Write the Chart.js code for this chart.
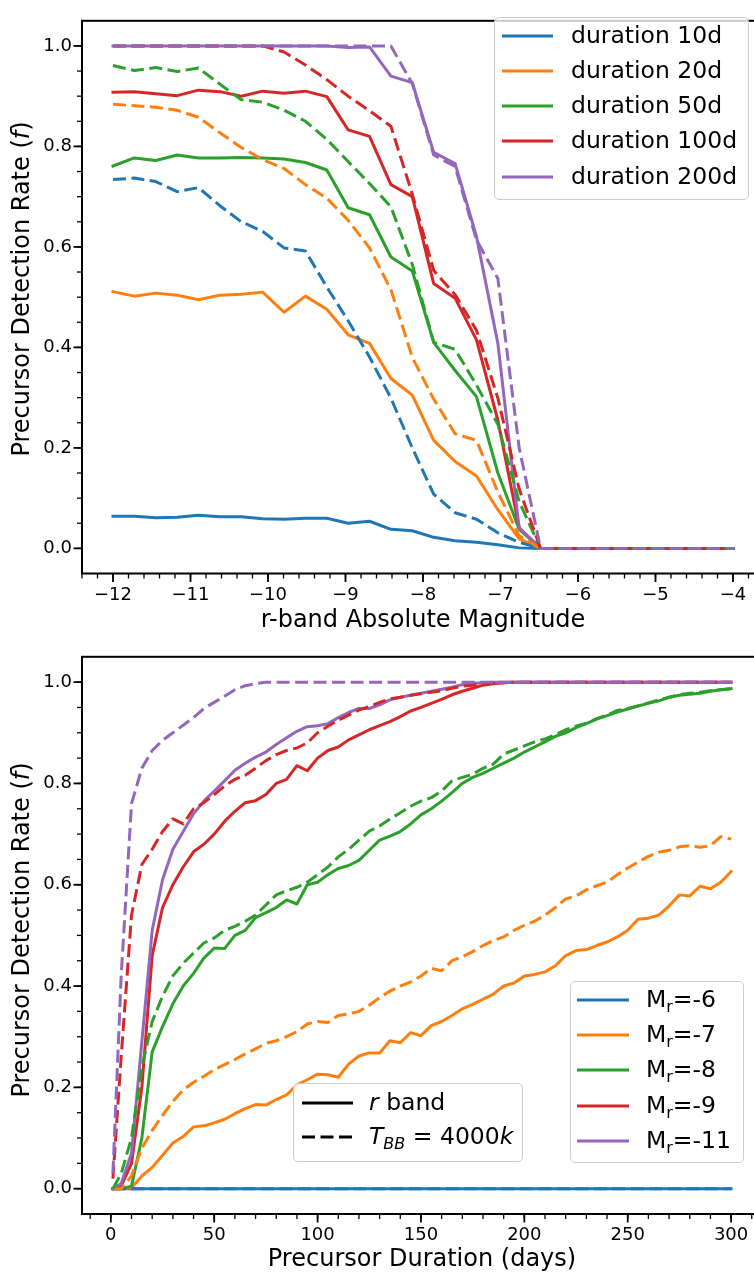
<!DOCTYPE html>
<html>
<head>
<meta charset="utf-8">
<title>Precursor detection rate</title>
<script src="https://cdn.jsdelivr.net/npm/chart.js@4.4.1/dist/chart.umd.min.js"></script>
<style>
  html, body { margin: 0; padding: 0; background: #fff; }
  #page { position: relative; width: 754px; height: 1275px; overflow: hidden; font-family: "DejaVu Sans", sans-serif; color: #000; }
  #page canvas { position: absolute; left: 0; }
  .ytitle { position: absolute; font-size: 24px; line-height: 1; white-space: nowrap; transform: translate(-50%, -50%) rotate(-90deg); }
  .legend { position: absolute; box-sizing: border-box; border: 1px solid #cccccc; border-radius: 5px; background: rgba(255, 255, 255, 0.8); }
  .legend .row { position: absolute; left: 0; height: 0; }
  .legend svg { position: absolute; top: -6px; }
  .legend span { position: absolute; top: 0; transform: translateY(-50%); font-size: 23.5px; line-height: 1; white-space: nowrap; }
  .legend sub { font-size: 16px; vertical-align: -5px; line-height: 0; }
</style>
</head>
<body>
<div id="page">
  <canvas id="topChart" width="764" height="636" style="top:0"></canvas>
  <canvas id="bottomChart" width="762" height="639" style="top:636px"></canvas>
  <div class="ytitle" style="left:21px; top:289px">Precursor Detection Rate (<i>f</i>)</div>
  <div class="ytitle" style="left:21px; top:930px">Precursor Detection Rate (<i>f</i>)</div>
  <div class="legend" id="legDuration" style="left:494px; top:17px; width:255px; height:183px"></div>
  <div class="legend" id="legBand" style="left:293px; top:1083px; width:230px; height:79px"></div>
  <div class="legend" id="legMag" style="left:570px; top:981px; width:174px; height:182px"></div>
</div>

<script>
// ---- top panel: detection rate vs r-band absolute magnitude ----
const magnitudes = [-12, -11.724, -11.448, -11.172, -10.897, -10.621, -10.345, -10.069, -9.793, -9.517,
  -9.241, -8.966, -8.69, -8.414, -8.138, -7.862, -7.586, -7.31, -7.034, -6.759,
  -6.483, -6.207, -5.931, -5.655, -5.379, -5.103, -4.828, -4.552, -4.276, -4];

// solid = r band, dashed = T_BB = 4000k
const dur10R = [0.064, 0.064, 0.061, 0.062, 0.066, 0.063, 0.063, 0.059, 0.058, 0.060,
  0.060, 0.050, 0.054, 0.038, 0.035, 0.022, 0.015, 0.012, 0.007, 0.001,
  0, 0, 0, 0, 0, 0, 0, 0, 0, 0];
const dur10BB = [0.734, 0.737, 0.730, 0.710, 0.718, 0.682, 0.650, 0.631, 0.598, 0.592,
  0.520, 0.453, 0.381, 0.299, 0.200, 0.108, 0.071, 0.058, 0.031, 0.012,
  0, 0, 0, 0, 0, 0, 0, 0, 0, 0];
const dur20R = [0.511, 0.502, 0.508, 0.504, 0.495, 0.504, 0.506, 0.510, 0.470, 0.502,
  0.476, 0.425, 0.408, 0.338, 0.305, 0.215, 0.173, 0.144, 0.077, 0.019,
  0, 0, 0, 0, 0, 0, 0, 0, 0, 0];
const dur20BB = [0.884, 0.881, 0.878, 0.872, 0.858, 0.827, 0.798, 0.774, 0.756, 0.724,
  0.697, 0.653, 0.598, 0.515, 0.380, 0.297, 0.228, 0.215, 0.112, 0.025,
  0, 0, 0, 0, 0, 0, 0, 0, 0, 0];
const dur50R = [0.761, 0.777, 0.772, 0.783, 0.777, 0.777, 0.778, 0.777, 0.775, 0.768,
  0.753, 0.678, 0.664, 0.580, 0.552, 0.410, 0.354, 0.302, 0.150, 0.038,
  0, 0, 0, 0, 0, 0, 0, 0, 0, 0];
const dur50BB = [0.961, 0.951, 0.957, 0.949, 0.956, 0.924, 0.893, 0.888, 0.872, 0.850,
  0.814, 0.770, 0.726, 0.680, 0.565, 0.410, 0.396, 0.325, 0.247, 0.093,
  0, 0, 0, 0, 0, 0, 0, 0, 0, 0];
const dur100R = [0.908, 0.909, 0.905, 0.901, 0.912, 0.909, 0.900, 0.910, 0.906, 0.910,
  0.899, 0.833, 0.820, 0.724, 0.700, 0.527, 0.498, 0.415, 0.255, 0.041,
  0, 0, 0, 0, 0, 0, 0, 0, 0, 0];
const dur100BB = [1, 1, 1, 1, 1, 1, 1, 1, 0.988, 0.962,
  0.933, 0.900, 0.871, 0.840, 0.705, 0.553, 0.505, 0.434, 0.299, 0.118,
  0, 0, 0, 0, 0, 0, 0, 0, 0, 0];
const dur200R = [1, 1, 1, 1, 1, 1, 1, 1, 1, 1,
  1, 0.997, 0.998, 0.940, 0.927, 0.788, 0.766, 0.621, 0.408, 0.040,
  0, 0, 0, 0, 0, 0, 0, 0, 0, 0];
const dur200BB = [1, 1, 1, 1, 1, 1, 1, 1, 1, 1,
  1, 1, 1, 1, 0.925, 0.783, 0.760, 0.614, 0.537, 0.200,
  0, 0, 0, 0, 0, 0, 0, 0, 0, 0];

const magTicks = [-12, -11, -10, -9, -8, -7, -6, -5, -4];

// ---- bottom panel: detection rate vs precursor duration ----
const days = [1, 5, 10, 15, 20, 25, 30, 35, 40, 45,
  50, 55, 60, 65, 70, 75, 80, 85, 90, 95,
  100, 105, 110, 115, 120, 125, 130, 135, 140, 145,
  150, 155, 160, 165, 170, 175, 180, 185, 190, 195,
  200, 205, 210, 215, 220, 225, 230, 235, 240, 245,
  250, 255, 260, 265, 270, 275, 280, 285, 290, 295,
  300];

const mr6R = [0, 0, 0, 0, 0, 0, 0, 0, 0, 0,
  0, 0, 0, 0, 0, 0, 0, 0, 0, 0,
  0, 0, 0, 0, 0, 0, 0, 0, 0, 0,
  0, 0, 0, 0, 0, 0, 0, 0, 0, 0,
  0, 0, 0, 0, 0, 0, 0, 0, 0, 0,
  0, 0, 0, 0, 0, 0, 0, 0, 0, 0,
  0];
const mr6BB = [0, 0, 0, 0, 0, 0, 0, 0, 0, 0,
  0, 0, 0, 0, 0, 0, 0, 0, 0, 0,
  0, 0, 0, 0, 0, 0, 0, 0, 0, 0,
  0, 0, 0, 0, 0, 0, 0, 0, 0, 0,
  0, 0, 0, 0, 0, 0, 0, 0, 0, 0,
  0, 0, 0, 0, 0, 0, 0, 0, 0, 0,
  0];
const mr7R = [0, 0, 0.002, 0.025, 0.042, 0.066, 0.090, 0.103, 0.122, 0.124,
  0.130, 0.137, 0.148, 0.158, 0.166, 0.165, 0.176, 0.185, 0.205, 0.215,
  0.226, 0.225, 0.220, 0.246, 0.262, 0.268, 0.268, 0.292, 0.288, 0.308,
  0.302, 0.322, 0.330, 0.342, 0.355, 0.364, 0.374, 0.384, 0.400, 0.406,
  0.420, 0.423, 0.428, 0.440, 0.460, 0.470, 0.472, 0.480, 0.487, 0.497,
  0.510, 0.532, 0.534, 0.540, 0.558, 0.580, 0.578, 0.597, 0.592, 0.605,
  0.626];
const mr7BB = [0, 0, 0.025, 0.080, 0.115, 0.145, 0.172, 0.195, 0.210, 0.222,
  0.235, 0.245, 0.255, 0.266, 0.276, 0.287, 0.292, 0.300, 0.310, 0.325,
  0.330, 0.328, 0.342, 0.345, 0.350, 0.362, 0.377, 0.390, 0.400, 0.408,
  0.420, 0.435, 0.430, 0.450, 0.458, 0.468, 0.480, 0.490, 0.497, 0.510,
  0.520, 0.528, 0.540, 0.555, 0.572, 0.578, 0.590, 0.598, 0.605, 0.620,
  0.633, 0.645, 0.656, 0.664, 0.668, 0.675, 0.677, 0.674, 0.677, 0.695,
  0.690];
const mr8R = [0, 0, 0.005, 0.100, 0.270, 0.320, 0.365, 0.400, 0.425, 0.455,
  0.475, 0.474, 0.500, 0.510, 0.535, 0.545, 0.555, 0.570, 0.562, 0.600,
  0.605, 0.620, 0.632, 0.638, 0.648, 0.668, 0.688, 0.696, 0.705, 0.720,
  0.738, 0.750, 0.765, 0.782, 0.800, 0.812, 0.820, 0.830, 0.840, 0.850,
  0.862, 0.872, 0.882, 0.893, 0.900, 0.910, 0.918, 0.927, 0.934, 0.941,
  0.947, 0.953, 0.958, 0.963, 0.970, 0.974, 0.976, 0.978, 0.982, 0.985,
  0.987];
const mr8BB = [0, 0.030, 0.100, 0.240, 0.330, 0.380, 0.420, 0.445, 0.465, 0.485,
  0.495, 0.510, 0.518, 0.528, 0.540, 0.560, 0.580, 0.588, 0.595, 0.605,
  0.620, 0.635, 0.655, 0.670, 0.688, 0.706, 0.716, 0.730, 0.742, 0.755,
  0.765, 0.772, 0.785, 0.805, 0.812, 0.818, 0.830, 0.838, 0.858, 0.866,
  0.874, 0.882, 0.888, 0.896, 0.906, 0.913, 0.919, 0.928, 0.935, 0.944,
  0.948, 0.953, 0.959, 0.965, 0.970, 0.975, 0.978, 0.980, 0.983, 0.985,
  0.987];
const mr9R = [0, 0.005, 0.050, 0.200, 0.460, 0.555, 0.600, 0.635, 0.665, 0.680,
  0.700, 0.725, 0.745, 0.762, 0.766, 0.778, 0.800, 0.808, 0.835, 0.825,
  0.850, 0.865, 0.872, 0.886, 0.896, 0.906, 0.914, 0.922, 0.932, 0.943,
  0.950, 0.958, 0.966, 0.975, 0.982, 0.988, 0.994, 0.997, 0.999, 1,
  1, 1, 1, 1, 1, 1, 1, 1, 1, 1,
  1, 1, 1, 1, 1, 1, 1, 1, 1, 1,
  1];
const mr9BB = [0.020, 0.260, 0.540, 0.640, 0.670, 0.705, 0.730, 0.720, 0.750, 0.762,
  0.778, 0.795, 0.808, 0.816, 0.830, 0.845, 0.857, 0.865, 0.870, 0.880,
  0.900, 0.913, 0.925, 0.935, 0.945, 0.952, 0.960, 0.967, 0.970, 0.974,
  0.977, 0.980, 0.983, 0.988, 0.992, 0.994, 0.997, 0.998, 0.999, 1,
  1, 1, 1, 1, 1, 1, 1, 1, 1, 1,
  1, 1, 1, 1, 1, 1, 1, 1, 1, 1,
  1];
const mr11R = [0, 0.010, 0.070, 0.290, 0.510, 0.610, 0.670, 0.705, 0.740, 0.765,
  0.785, 0.805, 0.826, 0.840, 0.852, 0.862, 0.877, 0.890, 0.903, 0.912,
  0.914, 0.918, 0.930, 0.940, 0.948, 0.948, 0.955, 0.965, 0.970, 0.974,
  0.978, 0.982, 0.986, 0.990, 0.995, 0.998, 0.999, 1, 1, 1,
  1, 1, 1, 1, 1, 1, 1, 1, 1, 1,
  1, 1, 1, 1, 1, 1, 1, 1, 1, 1,
  1];
const mr11BB = [0.030, 0.420, 0.760, 0.830, 0.865, 0.885, 0.900, 0.915, 0.930, 0.948,
  0.960, 0.972, 0.985, 0.993, 0.997, 1, 1, 1, 1, 1,
  1, 1, 1, 1, 1, 1, 1, 1, 1, 1,
  1, 1, 1, 1, 1, 1, 1, 1, 1, 1,
  1, 1, 1, 1, 1, 1, 1, 1, 1, 1,
  1, 1, 1, 1, 1, 1, 1, 1, 1, 1,
  1];

const dayTicks = [0, 50, 100, 150, 200, 250, 300];
const rateTicks = [0, 0.2, 0.4, 0.6, 0.8, 1.0];

const durationLabels = ['duration 10d', 'duration 20d', 'duration 50d', 'duration 100d', 'duration 200d'];
const magLabels = ['M<sub>r</sub>=-6', 'M<sub>r</sub>=-7', 'M<sub>r</sub>=-8', 'M<sub>r</sub>=-9', 'M<sub>r</sub>=-11'];
const bandLabels = ['<i>r</i> band', '<i>T</i><sub><i>BB</i></sub> = 4000<i>k</i>'];

const colors = ['#1f77b4', '#ff7f0e', '#2ca02c', '#d62728', '#9467bd'];
const DASH = [13, 5.5];

Chart.defaults.font.family = '"DejaVu Sans", sans-serif';
Chart.defaults.color = '#000';

// minor tick positions
function steps(from, to, step) {
  const out = [];
  for (let v = from; v <= to + step / 2; v += step) out.push(Math.round(v * 1000) / 1000);
  return out;
}
const magMinor = steps(-12.4, -3.6, 0.2);
const dayMinor = steps(-10, 310, 10);
const rateMinor = steps(0, 1, 0.05);

function fmtTick(v) {
  return v < 0 ? '\u2212' + Math.abs(v) : String(v);
}

// outward tick marks + axes frame
const axisMarks = {
  id: 'axisMarks',
  afterDraw(chart, args, opts) {
    const ctx = chart.ctx;
    const a = chart.chartArea;
    const xs = chart.scales.x, ys = chart.scales.y;
    ctx.save();
    ctx.strokeStyle = '#000';
    const mark = (x1, y1, x2, y2, w) => {
      ctx.lineWidth = w;
      ctx.beginPath();
      ctx.moveTo(x1, y1);
      ctx.lineTo(x2, y2);
      ctx.stroke();
    };
    opts.xMinor.forEach(v => { const p = xs.getPixelForValue(v); mark(p, a.bottom, p, a.bottom + 5, 1.3); });
    opts.xMajor.forEach(v => { const p = xs.getPixelForValue(v); mark(p, a.bottom, p, a.bottom + 8.5, 1.8); });
    rateMinor.forEach(v => { const p = ys.getPixelForValue(v); mark(a.left, p, a.left - 5, p, 1.3); });
    rateTicks.forEach(v => { const p = ys.getPixelForValue(v); mark(a.left, p, a.left - 8.5, p, 1.8); });
    ctx.lineWidth = 2;
    ctx.strokeRect(a.left, a.top, a.right - a.left, a.bottom - a.top);
    ctx.restore();
  }
};

function lineSets(xs, solid, dashed) {
  const all = [];
  solid.forEach((ys, k) => all.push({ ys: ys, color: colors[k], dash: false }));
  dashed.forEach((ys, k) => all.push({ ys: ys, color: colors[k], dash: true }));
  return all.map((s, i) => ({
    data: xs.map((x, j) => ({ x: x, y: s.ys[j] })),
    borderColor: s.color,
    borderWidth: 3,
    borderDash: s.dash ? DASH : [],
    borderCapStyle: s.dash ? 'butt' : 'square',
    borderJoinStyle: 'round',
    pointRadius: 0,
    tension: 0,
    fill: false,
    order: all.length - i   // later series are drawn on top, like matplotlib
  }));
}

function drawPanel(id, cfg) {
  return new Chart(document.getElementById(id), {
    type: 'line',
    data: { datasets: lineSets(cfg.xs, cfg.solid, cfg.dashed) },
    options: {
      responsive: false,
      animation: false,
      devicePixelRatio: 1,
      layout: { padding: { top: cfg.padTop, left: 0, right: 0, bottom: 0 } },
      plugins: {
        legend: { display: false },
        tooltip: { enabled: false },
        axisMarks: { xMajor: cfg.xTicks, xMinor: cfg.xMinor }
      },
      scales: {
        x: {
          type: 'linear',
          min: cfg.xMin,
          max: cfg.xMax,
          grid: { display: false, drawTicks: false },
          border: { display: false },
          afterBuildTicks: s => { s.ticks = cfg.xTicks.map(v => ({ value: v })); },
          afterFit: s => { s.height = cfg.xAxisHeight; },
          ticks: { font: { size: 18 }, color: '#000', padding: 11, maxRotation: 0, autoSkip: false, callback: v => fmtTick(v) },
          title: { display: true, text: cfg.xTitle, font: { size: 24 }, color: '#000', padding: { top: 0, bottom: 1 } }
        },
        y: {
          type: 'linear',
          min: -0.05,
          max: 1.05,
          grid: { display: false, drawTicks: false },
          border: { display: false },
          afterBuildTicks: s => { s.ticks = rateTicks.map(v => ({ value: v })); },
          afterFit: s => { s.width = 82; },
          ticks: { font: { size: 18 }, color: '#000', padding: 10, autoSkip: false, callback: v => v.toFixed(1) }
        }
      }
    },
    plugins: [axisMarks]
  });
}

drawPanel('topChart', {
  xs: magnitudes,
  solid: [dur10R, dur20R, dur50R, dur100R, dur200R],
  dashed: [dur10BB, dur20BB, dur50BB, dur100BB, dur200BB],
  xMin: -12.4, xMax: -3.6,
  xTicks: magTicks, xMinor: magMinor,
  xTitle: 'r-band Absolute Magnitude',
  padTop: 5, xAxisHeight: 62.5
});

drawPanel('bottomChart', {
  xs: days,
  solid: [mr6R, mr7R, mr8R, mr9R, mr11R],
  dashed: [mr6BB, mr7BB, mr8BB, mr9BB, mr11BB],
  xMin: -13.95, xMax: 314.95,
  xTicks: dayTicks, xMinor: dayMinor,
  xTitle: 'Precursor Duration (days)',
  padTop: 10, xAxisHeight: 61
});

// legends (html so the math-style labels stay real text)
function fillLegend(id, items) {
  const box = document.getElementById(id);
  items.forEach(it => {
    const row = document.createElement('div');
    row.className = 'row';
    row.style.top = it.y + 'px';
    const dash = it.dash ? ' stroke-dasharray="' + DASH.join(' ') + '"' : '';
    row.innerHTML = '<svg width="64" height="12" style="left:' + it.x0 + 'px">' +
      '<line x1="0" y1="6" x2="' + it.len + '" y2="6" stroke="' + it.color + '" stroke-width="3"' + dash + '/></svg>' +
      '<span style="left:' + it.tx + 'px">' + it.html + '</span>';
    box.appendChild(row);
  });
}

fillLegend('legDuration', durationLabels.map((t, k) => ({
  html: t, color: colors[k], dash: false, y: 17.7 + k * 35.2, x0: 7, len: 51, tx: 76
})));
fillLegend('legMag', magLabels.map((t, k) => ({
  html: t, color: colors[k], dash: false, y: 18 + k * 35.2, x0: 6, len: 52, tx: 75
})));
fillLegend('legBand', bandLabels.map((t, k) => ({
  html: t, color: '#000', dash: k === 1, y: 19.3 + k * 33.4, x0: 8, len: 51, tx: 75
})));
</script>
</body>
</html>
